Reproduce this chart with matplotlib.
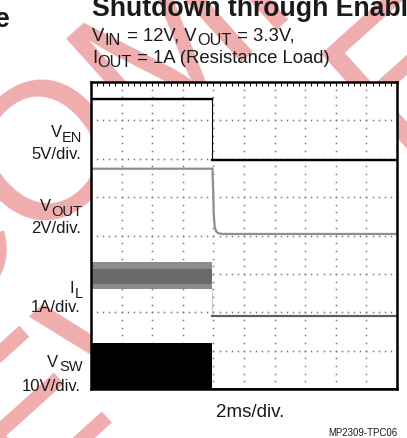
import matplotlib
matplotlib.use("Agg")
import matplotlib.pyplot as plt
import numpy as np
from matplotlib.transforms import IdentityTransform

plt.rcParams['font.family'] = ['Liberation Sans', 'DejaVu Sans']

# scope trace data, in divisions (x: 2ms/div, 10 div; y: 8 div)
ven_t = [0, 3.97, 3.97, 10]
ven_v = [7.55, 7.55, 5.97, 5.97]

vout_t = [0, 3.97, 3.99, 4.01, 4.04, 4.08, 4.15, 4.3, 10]
vout_v = [5.74, 5.74, 5.2, 4.6, 4.25, 4.12, 4.06, 4.04, 4.04]

il_on_t = [0, 3.97]
il_outer_lo = [2.61, 2.61]
il_outer_hi = [3.30, 3.30]
il_inner_lo = [2.74, 2.74]
il_inner_hi = [3.13, 3.13]
il_off_t = [3.97, 10]
il_off_v = [1.91, 1.91]

vsw_on_t = [0, 3.97]
vsw_on_v = [1.19, 1.19]
vsw_off_t = [3.97, 10]
vsw_off_v = [0.0, 0.0]

W, H = 407, 439
fig = plt.figure(figsize=(W / 100, H / 100), dpi=100)

# watermark behind everything
fig.text(165 / W, 1 - 185 / H, "NOT RECOMMENDED\nFOR NEW DESIGNS", fontsize=140,
         color='#f0adad', rotation=42, ha='center', va='center',
         multialignment='center', linespacing=1.0, zorder=-5)

ax = fig.add_axes([91 / W, 1 - 390 / H, 306 / W, 307 / H])
ax.set_facecolor('white')
ax.set_xlim(0, 10)
ax.set_ylim(0, 8)

# dotted graticule
for gy in range(1, 8):
    xs = np.arange(0, 10.01, 0.2)
    ax.plot(xs, [gy] * len(xs), ls='none', marker='s', ms=1.1, mew=0,
            color='#7a7a7a', zorder=0.5)
for gx in range(1, 10):
    ys = np.arange(0, 8.01, 0.2)
    ax.plot([gx] * len(ys), ys, ls='none', marker='s', ms=1.1, mew=0,
            color='#7a7a7a', zorder=0.5)

# V_SW
ax.fill_between(vsw_on_t, 0, vsw_on_v, color='black', lw=0, zorder=2)
ax.plot(vsw_off_t, vsw_off_v, color='black', lw=1.2, zorder=2)

# I_L
ax.fill_between(il_on_t, il_outer_lo, il_outer_hi, color='#8c8c8c', lw=0, zorder=2)
ax.fill_between(il_on_t, il_inner_lo, il_inner_hi, color='#6a6a6a', lw=0, zorder=2)
ax.plot([3.97, 3.97], [il_outer_lo[-1], il_off_v[0]], color='#c8c8c8', lw=0.8, zorder=2)
ax.plot(il_off_t, il_off_v, color='#5e5e5e', lw=1.6, zorder=2)

# V_OUT
ax.plot(vout_t, vout_v, color='#8e8e8e', lw=1.6, zorder=2)

# V_EN
ax.plot(ven_t, ven_v, color='black', lw=0.8, zorder=2)
ax.plot(ven_t[:2], ven_v[:2], color='black', lw=1.7, zorder=2)
ax.plot(ven_t[2:], ven_v[2:], color='black', lw=1.7, zorder=2)

ax.set_xticks(np.arange(0, 10.01, 0.2))
ax.set_yticks([])
ax.tick_params(axis='x', top=True, bottom=False, direction='in', length=3,
               width=0.7, labelbottom=False, labeltop=False)
for s in ax.spines.values():
    s.set_linewidth(1.8)
    s.set_color('black')


def rich(x, y, parts, size, ha='left', sub_dy=4.3, sub_scale=0.88):
    # place text pieces with big subscripts, pixel coords from top-left
    r = fig.canvas.get_renderer()
    items = []
    for s, sub in parts:
        t = fig.text(0, 0, s, fontsize=size * sub_scale if sub else size,
                     transform=IdentityTransform(), va='baseline', color='#1a1a1a')
        items.append((t, sub, t.get_window_extent(r).width))
    total = sum(w for _, _, w in items)
    cx = x - total if ha == 'right' else x
    for t, sub, w in items:
        t.set_position((cx, H - y - (sub_dy if sub else 0)))
        cx += w + 0.5


fig.text(92, H - 16, "Shutdown through Enable", fontsize=19.2, fontweight='bold',
         transform=IdentityTransform(), va='baseline', color='#1a1a1a')
fig.text(10, H - 27, "e", fontsize=19.2, fontweight='bold', ha='right',
         transform=IdentityTransform(), va='baseline', color='#1a1a1a')

rich(92, 40.7, [("V", 0), ("IN", 1), (" = 12V, V", 0), ("OUT", 1), (" = 3.3V,", 0)], 13.3)
rich(92, 62.7, [("I", 0), ("OUT", 1), (" = 1A (Resistance Load)", 0)], 13.3)

rich(82, 137.5, [("V", 0), ("EN", 1)], 12, ha='right')
rich(81, 159.3, [("5V/div.", 0)], 12, ha='right')
rich(82, 211.5, [("V", 0), ("OUT", 1)], 12, ha='right')
rich(81, 233.3, [("2V/div.", 0)], 12, ha='right')
rich(82, 293.3, [("I", 0), ("L", 1)], 12, ha='right')
rich(81, 312.3, [("1A/div.", 0)], 12, ha='right')
rich(82, 366.7, [("V", 0), ("SW", 1)], 12, ha='right')
rich(81, 390.7, [("10V/div.", 0)], 12, ha='right')

fig.text(250, H - 416.7, "2ms/div.", fontsize=13.5, ha='center',
         transform=IdentityTransform(), va='baseline', color='#1a1a1a')
fig.text(397, H - 436.5, "MP2309-TPC06", fontsize=6.9, ha='right',
         transform=IdentityTransform(), va='baseline', color='#1a1a1a')

fig.savefig("out.png", dpi=100)
